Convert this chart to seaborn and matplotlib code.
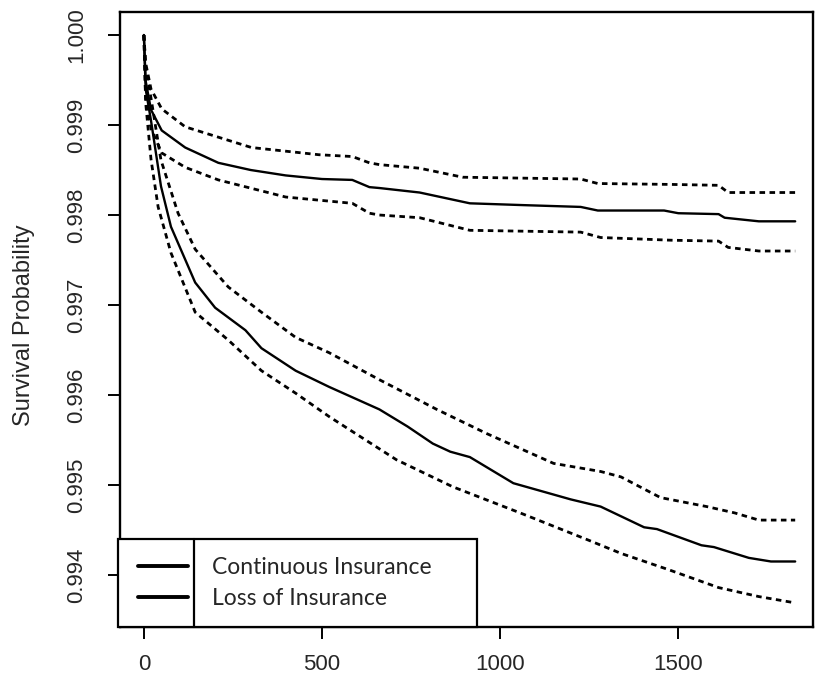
import numpy as np
import pandas as pd
import seaborn as sns
import matplotlib
matplotlib.use("Agg")
import matplotlib.pyplot as plt
from matplotlib.lines import Line2D
from matplotlib.patches import Rectangle

# ---- data ----
cont_t = [0, 5, 20, 50, 116, 209, 300, 398, 500, 585, 633, 661, 774, 915, 1065, 1226, 1274, 1460, 1500, 1613, 1630, 1726, 1828]
cont_s = [1.0000, 0.99949, 0.99917, 0.99894, 0.99875, 0.99858, 0.99850, 0.99844, 0.99840, 0.99839, 0.99831, 0.99830,
          0.99825, 0.99813, 0.99811, 0.99809, 0.99805, 0.99805, 0.99802, 0.99801, 0.99797, 0.99793, 0.99793]

cont_up_t = [0, 5, 20, 50, 116, 302, 491, 585, 633, 661, 774, 895, 1226, 1274, 1480, 1613, 1640, 1828]
cont_up_s = [1.0000, 0.99969, 0.99940, 0.99918, 0.99898, 0.99875, 0.99867, 0.99865, 0.99858, 0.99856, 0.99852,
             0.99842, 0.99840, 0.99835, 0.99834, 0.99833, 0.99825, 0.99825]

cont_lo_t = [0, 5, 20, 50, 116, 209, 398, 585, 633, 661, 774, 915, 1226, 1282, 1480, 1613, 1640, 1726, 1828]
cont_lo_s = [1.0000, 0.99930, 0.99896, 0.99869, 0.99853, 0.99839, 0.99820, 0.99813, 0.99802, 0.99800, 0.99797,
             0.99783, 0.99781, 0.99775, 0.99772, 0.99771, 0.99764, 0.99760, 0.99760]

loss_t = [0, 5, 20, 48, 76, 144, 200, 285, 330, 426, 520, 661, 740, 811, 860, 915, 1037, 1198, 1282, 1404, 1440,
          1565, 1600, 1698, 1760, 1828]
loss_s = [1.0000, 0.99940, 0.99905, 0.99832, 0.99787, 0.99725, 0.99697, 0.99672, 0.99652, 0.99627, 0.99609,
          0.99584, 0.99565, 0.99546, 0.99537, 0.99531, 0.99502, 0.99484, 0.99476, 0.99453, 0.99451, 0.99433,
          0.99431, 0.99419, 0.99415, 0.99415]

loss_up_t = [0, 5, 20, 48, 96, 144, 237, 330, 426, 520, 661, 822, 963, 1150, 1282, 1339, 1450, 1580, 1658, 1726, 1828]
loss_up_s = [1.0000, 0.99964, 0.99930, 0.99861, 0.99802, 0.99762, 0.99720, 0.99692, 0.99664, 0.99647, 0.99617,
             0.99584, 0.99557, 0.99524, 0.99515, 0.99509, 0.99486, 0.99476, 0.99469, 0.99461, 0.99461]

loss_lo_t = [0, 5, 20, 40, 76, 144, 237, 330, 426, 520, 709, 867, 1056, 1246, 1339, 1472, 1613, 1726, 1828]
loss_lo_s = [1.0000, 0.99925, 0.99862, 0.99809, 0.99758, 0.99692, 0.99661, 0.99627, 0.99602, 0.99576, 0.99528,
             0.99498, 0.99469, 0.99439, 0.99424, 0.99406, 0.99386, 0.99376, 0.99369]

legend_labels = ["Continuous Insurance", "Loss of Insurance"]
x_ticks = [0, 500, 1000, 1500]
y_ticks = [0.994, 0.995, 0.996, 0.997, 0.998, 0.999, 1.000]
y_label = "Survival Probability"

# ---- style ----
sns.set_style("ticks")
plt.rcParams['font.family'] = ['Liberation Sans', 'DejaVu Sans']

W, H = 820, 687
L, R, T, B = 120, 813, 12, 627
fig = plt.figure(figsize=(W/100, H/100), dpi=100)
fig.patch.set_facecolor("white")
ax = fig.add_axes([L/W, 1 - B/H, (R-L)/W, (B-T)/H])

solid_kw = dict(color="black", linewidth=1.7, estimator=None, sort=False, ax=ax)
dash_kw = dict(color="black", linewidth=2.0, estimator=None, sort=False, ax=ax)

sns.lineplot(x=cont_t, y=cont_s, **solid_kw)
sns.lineplot(x=loss_t, y=loss_s, **solid_kw)
for tt, ss in [(cont_up_t, cont_up_s), (cont_lo_t, cont_lo_s), (loss_up_t, loss_up_s), (loss_lo_t, loss_lo_s)]:
    sns.lineplot(x=tt, y=ss, linestyle=(0, (2.0, 1.6)), **dash_kw)

ax.set_xlim(-67, 1878)
ax.set_ylim(0.993422, 1.000256)
ax.set_xticks(x_ticks)
ax.set_xticklabels([str(v) for v in x_ticks], fontsize=16)
ax.set_yticks(y_ticks)
ax.set_yticklabels([f"{v:.3f}" for v in y_ticks], fontsize=16, rotation=90, va="center")
ax.tick_params(axis="both", direction="out", length=8.5, width=1.4, color="black")
ax.tick_params(axis="x", pad=11)
ax.tick_params(axis="y", pad=15)
for sp in ax.spines.values():
    sp.set_visible(True)
    sp.set_linewidth(1.7)
    sp.set_color("black")
ax.set_ylabel(y_label, fontsize=17)
ax.yaxis.set_label_coords((35 - L)/(R - L), 0.49)
ax.set_xlabel("")

# legend (box with separator as in the reference)
def ax_x(px):
    return (px - L)/(R - L)

def ax_y(py):
    return (B - py)/(B - T)

ax.add_patch(Rectangle((ax_x(118), ax_y(627)), ax_x(477) - ax_x(118), ax_y(539) - ax_y(627),
                       transform=ax.transAxes, facecolor="white", edgecolor="black", lw=1.6,
                       clip_on=False, zorder=5))
ax.add_line(Line2D([ax_x(194)]*2, [ax_y(627), ax_y(539)], transform=ax.transAxes, color="black",
                   lw=1.6, zorder=6, clip_on=False))
handles = [Line2D([0], [0], color="black", lw=2.8), Line2D([0], [0], color="black", lw=2.8)]
leg = ax.legend(handles, legend_labels, loc="upper left", bbox_to_anchor=(ax_x(138), ax_y(557)),
                frameon=False, borderaxespad=0, borderpad=0,
                prop={"family": "Lato", "size": 16.5}, handlelength=2.2, handletextpad=1.05,
                labelspacing=0.42)
leg.set_zorder(7)

fig.savefig("out.png", dpi=100, facecolor="white")
